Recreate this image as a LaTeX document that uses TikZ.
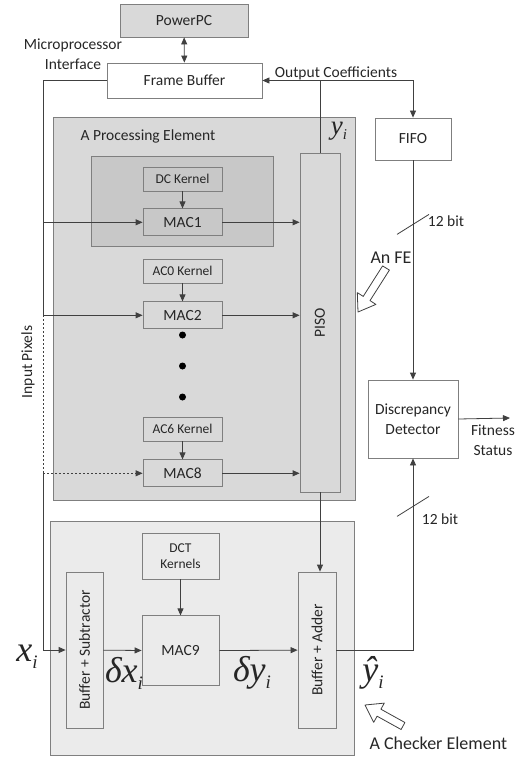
\documentclass[tikz,border=0pt]{standalone}
\usepackage{fontspec}
\setmainfont{Carlito}
\newfontfamily\tnrfont{Liberation Serif}
\usepackage{graphicx}
\usepackage{tikz}
\usetikzlibrary{arrows.meta, positioning, calc, backgrounds, fit}
\definecolor{lineclr}{HTML}{404040}
\definecolor{boxclr}{HTML}{7F7F7F}
\definecolor{peclr}{HTML}{D9D9D9}
\definecolor{dcclr}{HTML}{C8C8C8}
\definecolor{ceclr}{HTML}{EBEBEB}
\newcommand{\lblfont}{\fontsize{15.5}{20}\selectfont}
\newcommand{\kfont}{\fontsize{13.5}{16}\selectfont}
\newcommand{\bigfont}{\fontsize{18}{22}\selectfont}
% italic symbols with subscript i
\newcommand{\symfont}{\tnrfont\itshape\fontsize{36}{40}\selectfont}
\newcommand{\subi}[1]{\raisebox{-#1}{\fontsize{19}{20}\selectfont\itshape i}}

\begin{document}
\begin{tikzpicture}[
    x=1pt, y=-1pt,
    node distance=17pt,
    every node/.style={text=black!85},
    blk/.style={rectangle, draw=boxclr, line width=0.8pt, font=\lblfont, inner sep=0pt, align=center},
    kernel/.style={blk, font=\kfont, minimum width=79pt, minimum height=24pt},
    mac/.style={blk, minimum width=79pt, minimum height=27pt},
    group/.style={rectangle, draw=boxclr, line width=0.8pt, inner sep=0pt},
    arrow/.style={-{Triangle[length=7pt,width=6pt]}, draw=lineclr, line width=0.8pt},
    dblarrow/.style={arrow, {Triangle[length=7pt,width=6pt]}-{Triangle[length=7pt,width=6pt]}},
    wire/.style={draw=lineclr, line width=0.8pt},
    tag/.style={font=\lblfont, align=center},
    sym/.style={font=\symfont, inner sep=0pt},
    dot/.style={circle, fill=black, inner sep=0pt, minimum size=7pt},
    hollow/.style={draw=lineclr, fill=white, line join=round, line width=0.8pt}
]
\useasboundingbox (0,0) rectangle (530,757);

% top: processor and frame buffer
\node[blk, fill=peclr, minimum width=128pt, minimum height=33pt] (ppc) at (184,20.5) {PowerPC};
\node[blk, fill=white, minimum width=155pt, minimum height=35pt] (fb) at (184.5,80.5) {Frame Buffer};
\node[tag] (mpi) at (73,54) {Microprocessor\\Interface};

% processing element
\node[tag, anchor=west] (petitle) at (77,136) {A Processing Element};
\node[kernel] (dck) at (182.5,179) {DC Kernel};
\node[mac, below=17pt of dck] (mac1) {MAC1};
\node[kernel] (ac0k) at (182.5,271) {AC0 Kernel};
\node[mac, below=18pt of ac0k] (mac2) {MAC2};
\foreach \y [count=\i] in {335,366,397}
    \node[dot] (dot\i) at (182.5,\y) {};
\node[kernel] (ac6k) at (182.5,429) {AC6 Kernel};
\node[mac, below=18pt of ac6k] (mac8) {MAC8};
\node[blk, minimum width=40pt, minimum height=339pt] (piso) at (320,322.5) {\rotatebox{90}{PISO}};
\node[sym, font=\tnrfont\itshape\fontsize{27}{30}\selectfont] (yi) at (339,131) {y\raisebox{-5pt}{\fontsize{15}{16}\selectfont i}};

% right side
\node[blk, fill=white, minimum width=76pt, minimum height=42pt] (fifo) at (413,139) {FIFO};
\node[blk, fill=white, minimum width=90pt, minimum height=78pt] (dd) at (413,419) {Discrepancy\\Detector};
\coordinate (fitout) at (510,418);
\node[tag] (fitst) at (493,440) {Fitness\\Status};
\node[font=\bigfont] (fe) at (391,258) {An FE};
\node[tag] (bw1) at (446,221) {12 bit};
\node[tag] (bw2) at (440,519) {12 bit};
\node[tag] (outc) at (336,73) {Output Coefficients};
\node[tag, rotate=90] (inpx) at (28,362) {Input Pixels};

% checker element
\node[kernel, minimum width=77pt, minimum height=46pt] (dct) at (180.5,556) {DCT\\Kernels};
\node[mac, minimum width=77pt, minimum height=70pt, below=36pt of dct] (mac9) {MAC9};
\node[blk, minimum width=37pt, minimum height=156pt] (bs) at (84.5,650) {\rotatebox{90}{Buffer + Subtractor}};
\node[blk, minimum width=38pt, minimum height=156pt] (ba) at (317,650) {\rotatebox{90}{Buffer + Adder}};
\node[font=\bigfont, anchor=west] (cetitle) at (366,743) {A Checker Element};
\node[sym] (xi) at (27,657) {x\subi{7pt}};
\node[sym] (dxi) at (124,673) {δx\subi{7pt}};
\node[sym] (dyi) at (252,673) {δy\subi{7pt}};
\node[sym] (yhat) at (373,673) {ŷ\subi{7pt}};

\begin{scope}[on background layer]
    \node[group, fill=peclr, minimum width=302pt, minimum height=383pt] (pe) at (204,308.5) {};
    \node[group, fill=ceclr, minimum width=304pt, minimum height=234pt] (ce) at (202,638) {};
    \node[group, fill=dcclr, fit=(dck) (mac1), inner xsep=51pt, inner ysep=10.5pt] (dcgrp) {};
\end{scope}

% connectors
\draw[dblarrow] (ppc) -- (fb);
\coordinate (bus) at (43,80.5);
\draw[wire] (fb.west) -- (bus) -- (bus |- mac2);
\draw[wire, dash pattern=on 2pt off 2pt] (bus |- mac2) -- (bus |- mac8);
\draw[arrow] (bus |- mac8) -- (bus |- bs) -- (bs);
\foreach \m in {mac1,mac2}
    \draw[arrow] (bus |- \m) -- (\m);
\draw[arrow, dash pattern=on 2pt off 2pt] (bus |- mac8) -- (mac8);
\foreach \m in {mac1,mac2,mac8}
    \draw[arrow] (\m) -- (\m -| piso.west);
\draw[arrow] (dck) -- (mac1);
\draw[arrow] (ac0k) -- (mac2);
\draw[arrow] (ac6k) -- (mac8);

\coordinate (oc) at (piso.north |- fb.east);
\draw[wire] (piso.north) -- (oc);
\draw[arrow] (oc) -- (fb.east);
\draw[arrow] (oc) -| (fifo.north);
\draw[arrow] (fifo) -- (dd);
\path (fifo.south) ++(0,64) coordinate (s1);
\draw[wire] (s1) ++(-16,10) -- ++(32,-20);
\draw[arrow] (dd.east) -- (fitout);

\draw[arrow] (piso.south) -- (piso.south |- ba.north);
\draw[arrow] (dct) -- (mac9);
\draw[arrow] (bs) -- (mac9);
\draw[arrow] (mac9) -- (ba);
\draw[arrow] (ba.east) -| (dd.south);
\path (dd.south) ++(0,48) coordinate (s2);
\draw[wire] (s2) ++(-16,10) -- ++(32,-20);

% hollow pointers
\draw[hollow] (389.4,270.1) -- (370.0,300.6) -- (375.9,304.4) -- (358,312) -- (357.3,292.6) -- (363.2,296.4) -- (382.6,265.9) -- cycle;
\draw[hollow] (404.9,722.5) -- (380.9,709.2) -- (384.3,703.1) -- (365,705) -- (373.7,722.3) -- (377.1,716.2) -- (401.1,729.5) -- cycle;

\end{tikzpicture}
\end{document}
